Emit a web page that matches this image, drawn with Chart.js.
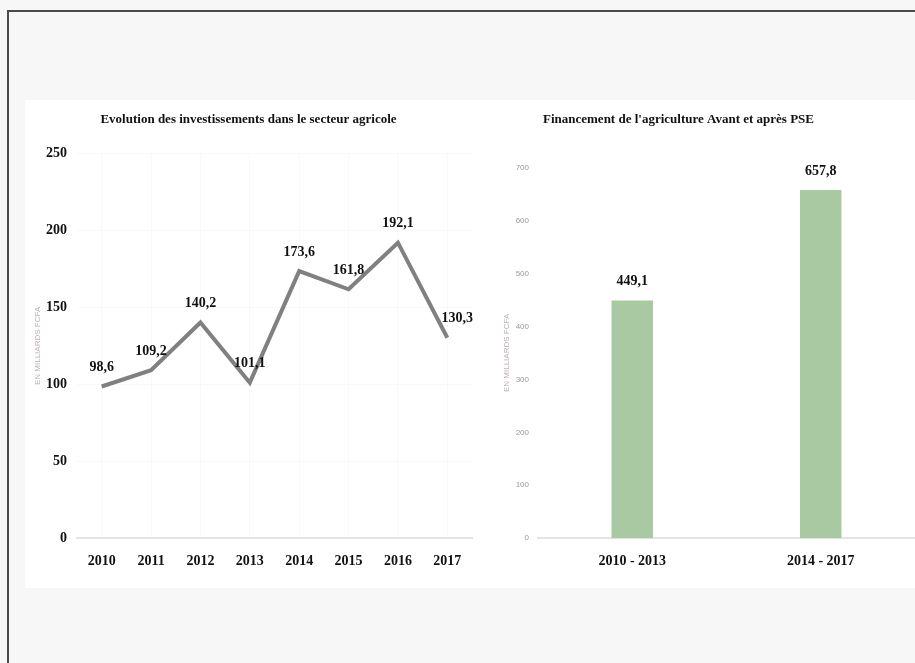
<!DOCTYPE html>
<html lang="fr">
<head>
<meta charset="utf-8">
<title>Investissements agricoles</title>
<script src="https://cdn.jsdelivr.net/npm/chart.js@4.4.1/dist/chart.umd.min.js"></script>
<style>
  html, body { margin: 0; padding: 0; }
  body { width: 915px; height: 663px; background: #f7f7f7; position: relative; overflow: hidden; }
  .cadre { position: absolute; left: 7px; top: 10px; width: 960px; height: 700px;
           border-left: 2px solid #4a4a4a; border-top: 2px solid #4a4a4a; }
  .panneau { position: absolute; left: 25px; top: 100px; width: 890px; height: 488px; background: #fff; }
  .graph { position: absolute; top: 0; height: 488px; }
  #gauche { left: 0; width: 455px; }
  #droite { left: 417px; width: 473px; }
</style>
</head>
<body>
<div class="cadre"></div>
<div class="panneau">
  <div class="graph" id="gauche"><canvas id="investChart"></canvas></div>
  <div class="graph" id="droite"><canvas id="financementChart"></canvas></div>
</div>
<script>
// Investissements annuels (milliards FCFA)
const annees = ['2010', '2011', '2012', '2013', '2014', '2015', '2016', '2017'];
const investissements = [98.6, 109.2, 140.2, 101.1, 173.6, 161.8, 192.1, 130.3];
const ticksInvest = [0, 50, 100, 150, 200, 250];

// Financement avant / après PSE
const periodes = ['2010 - 2013', '2014 - 2017'];
const financements = [449.1, 657.8];
const ticksFinancement = [0, 100, 200, 300, 400, 500, 600, 700];

const serif = "'Liberation Serif', 'Times New Roman', serif";
const sans = "'Liberation Sans', Arial, sans-serif";

function formatVirgule(v) {
    return v.toFixed(1).replace('.', ',');
}

// Étiquettes de valeur au-dessus des points / barres
const etiquettesValeurs = {
    id: 'etiquettesValeurs',
    afterDatasetsDraw(chart) {
        const ctx = chart.ctx;
        const meta = chart.getDatasetMeta(0);
        const valeurs = chart.data.datasets[0].data;
        ctx.save();
        ctx.font = "bold 14px " + serif;
        ctx.fillStyle = '#111';
        ctx.textAlign = 'center';
        ctx.textBaseline = 'middle';
        meta.data.forEach((el, i) => {
            let x = el.x;
            // la dernière étiquette est décalée pour ne pas chevaucher la ligne
            if (meta.type === 'line' && i === valeurs.length - 1) x += 10;
            ctx.fillText(formatVirgule(valeurs[i]), x, el.y - 19);
        });
        ctx.restore();
    }
};

function creerGraphiqueInvest() {
    const ctx = document.getElementById('investChart').getContext('2d');
    new Chart(ctx, {
        type: 'line',
        data: {
            labels: annees,
            datasets: [{
                data: investissements,
                borderColor: '#808080',
                borderWidth: 4,
                pointRadius: 0,
                tension: 0,
                fill: false
            }]
        },
        options: {
            responsive: true,
            maintainAspectRatio: false,
            animation: false,
            layout: { padding: { top: 0, right: 8, bottom: 3, left: 0 } },
            plugins: {
                legend: { display: false },
                tooltip: { enabled: false },
                title: {
                    display: true,
                    text: 'Evolution des investissements dans le secteur agricole',
                    color: '#111',
                    font: { family: serif, size: 13, weight: 'bold' },
                    padding: { top: 12, bottom: 26 }
                }
            },
            scales: {
                x: {
                    offset: true,
                    grid: { color: 'rgba(0,0,0,0.025)', drawTicks: false },
                    border: { color: '#e4e4e4', width: 2 },
                    ticks: { color: '#111', font: { family: serif, size: 14, weight: 'bold' }, padding: 15 }
                },
                y: {
                    min: 0,
                    max: 250,
                    afterBuildTicks: axis => { axis.ticks = ticksInvest.map(v => ({ value: v })); },
                    afterFit: axis => { axis.width = 52; },
                    grid: { color: 'rgba(0,0,0,0.025)', drawTicks: false },
                    border: { display: false },
                    ticks: { color: '#111', font: { family: serif, size: 14, weight: 'bold' }, padding: 10 },
                    title: {
                        display: true,
                        text: 'EN MILLIARDS FCFA',
                        color: '#bfaeb2',
                        font: { family: sans, size: 8 },
                        padding: { top: 8, bottom: 0 }
                    }
                }
            }
        },
        plugins: [etiquettesValeurs]
    });
}

function creerGraphiqueFinancement() {
    const ctx = document.getElementById('financementChart').getContext('2d');
    new Chart(ctx, {
        type: 'bar',
        data: {
            labels: periodes,
            datasets: [{
                data: financements,
                backgroundColor: '#a8c9a2',
                borderWidth: 0,
                barPercentage: 0.22,
                categoryPercentage: 1
            }]
        },
        options: {
            responsive: true,
            maintainAspectRatio: false,
            animation: false,
            layout: { padding: { top: 0, right: 0, bottom: 3, left: 0 } },
            plugins: {
                legend: { display: false },
                tooltip: { enabled: false },
                title: {
                    display: true,
                    text: "Financement de l'agriculture Avant et après PSE",
                    color: '#111',
                    font: { family: serif, size: 13, weight: 'bold' },
                    padding: { top: 12, bottom: 40 }
                }
            },
            scales: {
                x: {
                    grid: { display: false, drawTicks: false },
                    border: { color: '#e4e4e4', width: 2 },
                    ticks: { color: '#111', font: { family: serif, size: 14, weight: 'bold' }, padding: 15 }
                },
                y: {
                    min: 0,
                    max: 700,
                    afterBuildTicks: axis => { axis.ticks = ticksFinancement.map(v => ({ value: v })); },
                    afterFit: axis => { axis.width = 96; },
                    grid: { display: false, drawTicks: false },
                    border: { display: false },
                    ticks: { color: '#9a9a9a', font: { family: sans, size: 8 }, padding: 9 },
                    title: {
                        display: true,
                        text: 'EN MILLIARDS FCFA',
                        color: '#bfaeb2',
                        font: { family: sans, size: 8 },
                        padding: { top: 60, bottom: 0 }
                    }
                }
            }
        },
        plugins: [etiquettesValeurs]
    });
}

document.addEventListener('DOMContentLoaded', () => {
    creerGraphiqueInvest();
    creerGraphiqueFinancement();
});
</script>
</body>
</html>
